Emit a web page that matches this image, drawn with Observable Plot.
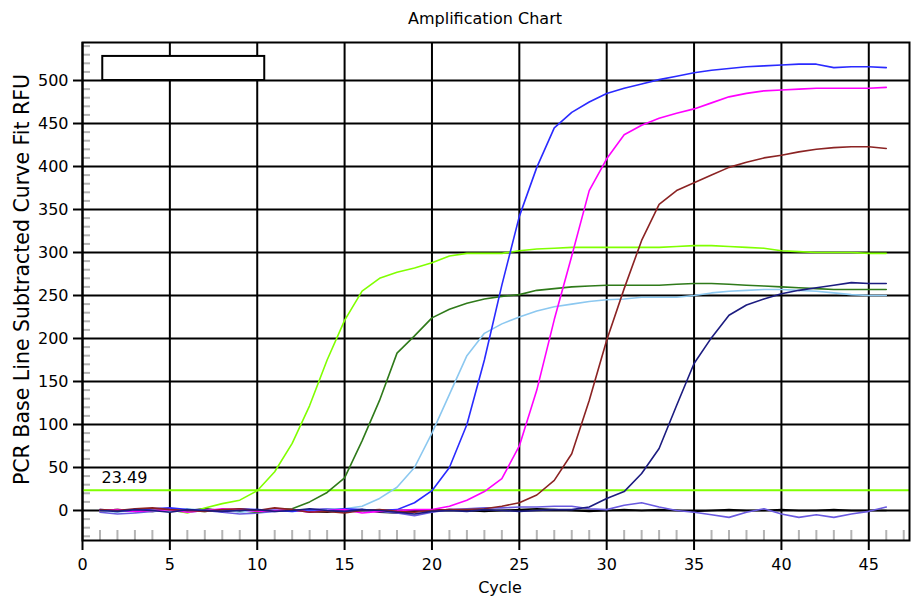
<!DOCTYPE html>
<html>
<head>
<meta charset="utf-8">
<script src="https://cdn.jsdelivr.net/npm/d3@7"></script>
<script src="https://cdn.jsdelivr.net/npm/@observablehq/plot@0.6"></script>
<style>
  html, body { margin: 0; padding: 0; background: #fff; }
  body { width: 911px; height: 596px; overflow: hidden; font-family: "DejaVu Sans", Verdana, sans-serif; }
  #title { position: relative; height: 30px; }
  #title span { position: absolute; left: 485px; top: 11px; transform: translateX(-50%); font-size: 16px; line-height: 16px; color: #000; white-space: nowrap; }
  #chart svg { display: block; }
</style>
</head>
<body>
<div id="title"><span>Amplification Chart</span></div>
<div id="chart"></div>
<script>
// ---- data ----
const titleText = "Amplification Chart";
const xLabel = "Cycle";
const yLabel = "PCR Base Line Subtracted Curve Fit RFU";

const cycles = [1,2,3,4,5,6,7,8,9,10,11,12,13,14,15,16,17,18,19,20,21,22,23,24,25,26,27,28,29,30,31,32,33,34,35,36,37,38,39,40,41,42,43,44,45,46];

const xTicks = [0,5,10,15,20,25,30,35,40,45];
const yTicks = [0,50,100,150,200,250,300,350,400,450,500];
const xMinorTicks = [1,2,3,4,6,7,8,9,11,12,13,14,16,17,18,19,21,22,23,24,26,27,28,29,31,32,33,34,36,37,38,39,41,42,43,44,46,47];
const yMinorTicks = [-30,-20,-10,10,20,30,40,60,70,80,90,110,120,130,140,160,170,180,190,210,220,230,240,260,270,280,290,310,320,330,340,360,370,380,390,410,420,430,440,460,470,480,490,510,520,530,540];

const threshold = [23.49];
const legendBox = [{x1: 1.16, x2: 10.43, y1: 500, y2: 528}];

const seriesNames = ["black", "slate", "lime", "darkGreen", "lightBlue", "blue", "magenta", "brown", "navy"];
const seriesColors = ["#000000", "#6a5ae0", "#80ff00", "#2f7a1a", "#8cc8f0", "#2a2aff", "#ff00ff", "#8b2323", "#1c1c80"];

const black = [0,1,0,-1,1,0,2,0,-1,0, 1,0,-1,-2,0,1,-2,-3,-1,0, 1,0,-1,0,1,2,1,0,-1,0, 1,0,1,0,-1,0,1,0,0,1, 0,0,1,0,0,0];
const slate = [-2,-4,-3,-1,0,-2,0,-2,-4,-3, -1,0,1,2,1,0,-1,-3,-6,-2, 1,2,3,3,4,4,5,5,2,1, 6,9,4,0,-2,-5,-8,-2,2,-4, -8,-5,-8,-4,-1,4];
const lime = [0,1,-1,2,1,-3,3,8,12,23, 45,78,122,175,221,255,270,277,282,288, 296,299,299,299,302,304,305,306,306,306, 306,306,306,307,308,308,307,306,305,302, 301,300,300,300,299,299];
const darkGreen = [0,-1,1,0,2,0,-1,1,0,-2, 1,2,10,21,38,81,128,183,203,224, 234,241,246,249,251,256,258,260,261,262, 262,262,262,263,264,264,263,262,261,260, 259,258,257,257,257,257];
const lightBlue = [0,-2,1,0,-1,2,0,1,-2,0, 1,-1,0,1,2,5,14,27,50,90, 135,180,206,217,225,232,237,240,243,245, 246,248,248,248,250,253,255,256,257,257, 256,255,253,251,250,250];
const blue = [1,0,-1,2,3,1,0,-1,2,1, 0,-1,1,0,2,1,0,1,9,23, 50,100,175,262,342,399,445,463,475,485, 491,496,501,505,509,512,514,516,517,518, 519,519,515,516,516,515];
const magenta = [0,1,-1,0,1,-2,0,2,1,-1, 0,1,-2,0,1,-3,-1,0,1,1, 5,12,22,37,75,140,222,296,372,409, 437,448,456,462,467,474,481,485,488,489, 490,491,491,491,491,492];
const brown = [1,0,2,3,1,0,-1,1,2,0, 3,1,-2,-1,-3,0,1,-1,-2,0, 1,1,2,5,9,18,35,66,128,198, 258,314,356,372,381,390,399,405,410,413, 417,420,422,423,423,421];
const navy = [0,-1,1,0,-2,1,0,-1,0,1, -1,0,2,0,-1,1,0,-2,-4,-1, 0,-1,1,0,-1,0,1,1,4,14, 22,43,72,122,171,201,227,239,246,252, 256,259,262,265,264,264];

const seriesValues = {black, slate, lime, darkGreen, lightBlue, blue, magenta, brown, navy};

// ---- build table ----
const rows = [];
for (const name of seriesNames) {
  seriesValues[name].forEach((v, i) => rows.push({series: name, cycle: cycles[i], rfu: v}));
}

const W = 911, H = 566;
const mL = 82, mR = 2, mT = 12, mB = 56;
const frameW = W - mL - mR, frameH = H - mT - mB;

const chart = Plot.plot({
  width: W,
  height: H,
  marginLeft: mL,
  marginRight: mR,
  marginTop: mT,
  marginBottom: mB,
  style: {fontFamily: "'DejaVu Sans', Verdana, sans-serif", fontSize: "16px", color: "#000", background: "#fff", overflow: "visible"},
  x: {domain: [0, 47.33]},
  y: {domain: [-34.9, 544.2]},
  color: {domain: seriesNames, range: seriesColors},
  marks: [
    // minor ticks inside the frame
    Plot.ruleX(xMinorTicks, {x: d => d, stroke: "#b4b4b4", strokeWidth: 2, insetTop: frameH - 10}),
    Plot.ruleY(yMinorTicks, {y: d => d, stroke: "#b4b4b4", strokeWidth: 2, insetRight: frameW - 8}),
    // major grid
    Plot.gridX(xTicks, {stroke: "#000", strokeOpacity: 1, strokeWidth: 2}),
    Plot.gridY(yTicks, {stroke: "#000", strokeOpacity: 1, strokeWidth: 2}),
    // axes
    Plot.axisX(xTicks, {tickSize: 10, tickPadding: 8, strokeWidth: 2, label: null, fontSize: 16}),
    Plot.axisY(yTicks, {tickSize: 9, tickPadding: 5, strokeWidth: 2, label: null, fontSize: 16}),
    // empty legend box
    Plot.rect(legendBox, {x1: "x1", x2: "x2", y1: "y1", y2: "y2", fill: "#fff", stroke: "#000", strokeWidth: 2}),
    // threshold
    Plot.ruleY(threshold, {y: d => d, stroke: "#80ff00", strokeWidth: 2}),
    Plot.text(threshold, {y: d => d, frameAnchor: "left", text: d => d.toFixed(2), textAnchor: "start", lineAnchor: "middle", dx: 19, dy: -12.5, fontSize: 16, fill: "#000"}),
    // curves
    Plot.line(rows, {x: "cycle", y: "rfu", z: "series", stroke: "series", strokeWidth: 1.6, curve: "linear"}),
    // frame
    Plot.frame({stroke: "#000", strokeWidth: 2}),
    // axis labels
    Plot.text([xLabel], {frameAnchor: "bottom", text: d => d, lineAnchor: "middle", dx: 4, dy: 47, fontSize: 16, fill: "#000"}),
    Plot.text([yLabel], {frameAnchor: "left", text: d => d, rotate: -90, textAnchor: "middle", lineAnchor: "middle", dx: -60, dy: -12, fontSize: 20.5, fill: "#000"})
  ]
});
document.getElementById("chart").appendChild(chart);
</script>
</body>
</html>
